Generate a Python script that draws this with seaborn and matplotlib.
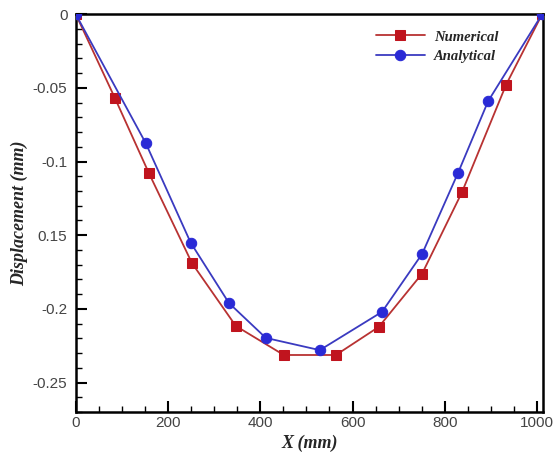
import numpy as np
import pandas as pd
import matplotlib
matplotlib.use("Agg")
import matplotlib.pyplot as plt
from matplotlib.ticker import MultipleLocator, FixedLocator, FixedFormatter
import seaborn as sns

# Data
num_x = [0, 85, 158, 252, 347, 451, 564, 657, 751, 837, 933, 1011]
num_y = [0, -0.057, -0.1075, -0.169, -0.2116, -0.2313, -0.2313, -0.2122, -0.176, -0.121, -0.0478, 0]
ana_x = [0, 152, 249, 332, 412, 529, 664, 751, 829, 894, 1011]
ana_y = [0, -0.0877, -0.155, -0.196, -0.2197, -0.228, -0.202, -0.1626, -0.1075, -0.059, 0]

x_ticks = [0, 200, 400, 600, 800, 1000]
y_ticks = [0, -0.05, -0.1, -0.15, -0.2, -0.25]
y_tick_labels = ["0", "-0.05", "-0.1", "0.15", "-0.2", "-0.25"]

sns.set_style("white")
plt.rcParams['font.family'] = ['Liberation Sans', 'DejaVu Sans']

fig = plt.figure(figsize=(5.53, 4.58), dpi=100)
ax = fig.add_axes([0.137, 0.1004, 0.845, 0.8686])

red = "#c0141e"
blue = "#2a2ad6"

df_num = pd.DataFrame({"x": num_x, "y": num_y})
df_ana = pd.DataFrame({"x": ana_x, "y": ana_y})

sns.lineplot(data=df_num, x="x", y="y", ax=ax, color="#b83232", lw=1.3, sort=False,
             estimator=None, marker="s", markersize=7, markerfacecolor=red,
             markeredgecolor=red, label="Numerical", zorder=3)
sns.lineplot(data=df_ana, x="x", y="y", ax=ax, color="#3a3ac0", lw=1.3, sort=False,
             estimator=None, marker="o", markersize=7.5, markerfacecolor=blue,
             markeredgecolor=blue, label="Analytical", zorder=4)

ax.set_xlim(0, 1013)
ax.set_ylim(-0.27, 0)

ax.xaxis.set_major_locator(FixedLocator(x_ticks))
ax.xaxis.set_minor_locator(MultipleLocator(50))
ax.yaxis.set_major_locator(FixedLocator(y_ticks))
ax.yaxis.set_major_formatter(FixedFormatter(y_tick_labels))
ax.yaxis.set_minor_locator(MultipleLocator(0.01))

ax.tick_params(axis="both", which="major", direction="in", length=8, width=1.5,
               labelsize=11, labelcolor="#444444", color="black",
               top=False, right=False, left=True, bottom=True)
ax.tick_params(axis="x", which="major", pad=3)
ax.tick_params(axis="y", which="major", pad=6)
ax.tick_params(axis="both", which="minor", direction="in", length=4, width=1,
               color="black", top=False, right=False, left=True, bottom=True)

for s in ax.spines.values():
    s.set_visible(True)
    s.set_color("black")
    s.set_linewidth(1.8)

ax.set_xlabel("X (mm)", family=["Liberation Serif"], style="italic", weight="bold",
              fontsize=13, labelpad=3)
ax.set_ylabel("Displacement (mm)", family=["Liberation Serif"], style="italic",
              weight="bold", fontsize=13, labelpad=3)

leg = ax.legend(loc="upper left", bbox_to_anchor=(0.62, 0.985), frameon=False,
                prop={"family": "Liberation Serif", "style": "italic", "weight": "bold",
                      "size": 10.5}, handlelength=3.4, handletextpad=0.6,
                borderpad=0.2, labelspacing=0.45)

fig.savefig("out.png", dpi=100)
